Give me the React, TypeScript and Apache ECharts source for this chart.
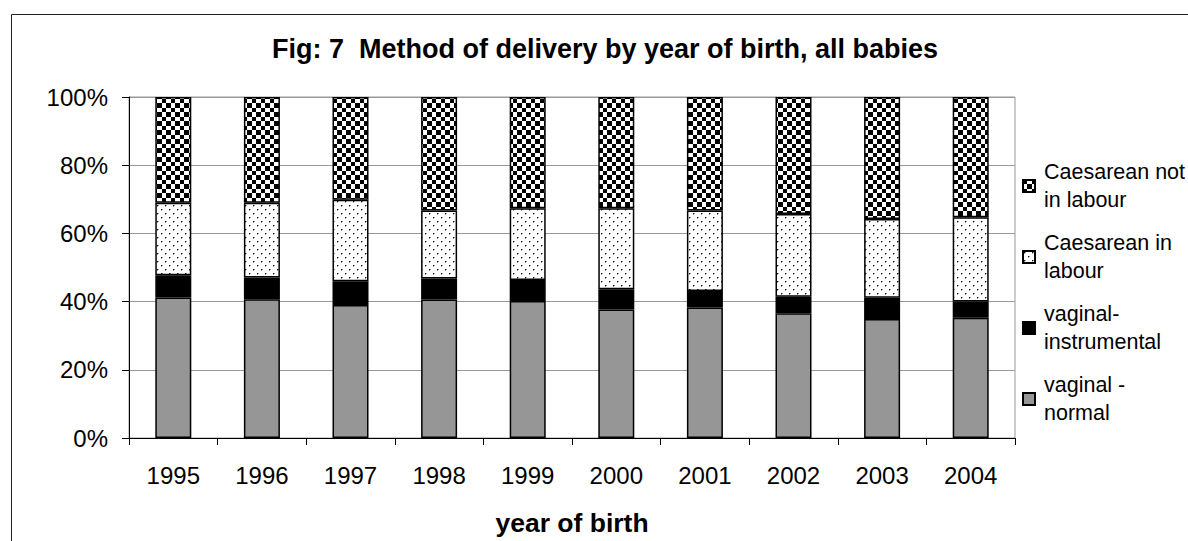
import React, { useEffect, useRef } from "react";
import * as echarts from "echarts";

const years = ["1995", "1996", "1997", "1998", "1999", "2000", "2001", "2002", "2003", "2004"];
const vaginalNormal = [41.2, 40.7, 39.0, 40.6, 40.2, 37.7, 38.3, 36.6, 34.9, 35.3];
const vaginalInstrumental = [6.5, 6.4, 7.0, 6.2, 6.1, 5.9, 4.8, 4.8, 6.2, 4.7];
const caesareanInLabour = [21.3, 21.9, 23.9, 19.9, 21.1, 23.8, 23.6, 24.3, 23.1, 24.7];
const caesareanNotInLabour = [31.0, 31.0, 30.1, 33.3, 32.6, 32.6, 33.3, 34.3, 35.8, 35.3];

const seriesNames = ["vaginal - normal", "vaginal-instrumental", "Caesarean in labour", "Caesarean not in labour"];
const legendOrder = ["Caesarean not in labour", "Caesarean in labour", "vaginal-instrumental", "vaginal - normal"];
const legendLines: Record<string, string> = {
  "Caesarean not in labour": "Caesarean not\nin labour",
  "Caesarean in labour": "Caesarean in\nlabour",
  "vaginal-instrumental": "vaginal-\ninstrumental",
  "vaginal - normal": "vaginal -\nnormal",
};
const yTicks = [0, 20, 40, 60, 80, 100];
const titleText = "Fig: 7  Method of delivery by year of birth, all babies";
const xAxisName = "year of birth";

const FONT = "'Liberation Sans', Arial, sans-serif";

function makeChecker(): string {
  const c = document.createElement("canvas");
  c.width = 9;
  c.height = 9;
  const ctx = c.getContext("2d")!;
  ctx.fillStyle = "#ffffff";
  ctx.fillRect(0, 0, 9, 9);
  ctx.fillStyle = "#000000";
  ctx.fillRect(0, 0, 4, 4);
  ctx.fillRect(4, 4, 5, 5);
  return c.toDataURL();
}

function makeDots(): string {
  const c = document.createElement("canvas");
  c.width = 8;
  c.height = 8;
  const ctx = c.getContext("2d")!;
  ctx.fillStyle = "#ffffff";
  ctx.fillRect(0, 0, 8, 8);
  ctx.fillStyle = "#111111";
  ctx.fillRect(1, 1, 1, 1);
  ctx.fillRect(5, 5, 1, 1);
  ctx.fillStyle = "#999999";
  ctx.fillRect(2, 1, 1, 1);
  ctx.fillRect(6, 5, 1, 1);
  ctx.fillRect(1, 2, 1, 1);
  ctx.fillRect(5, 6, 1, 1);
  return c.toDataURL();
}

export default function App() {
  const ref = useRef<HTMLDivElement>(null);
  useEffect(() => {
    if (!ref.current) return;
    const chart = echarts.init(ref.current, null, { renderer: "svg", width: 1188, height: 541 });
    const checker = { image: makeChecker(), repeat: "repeat", imageWidth: 9, imageHeight: 9 };
    const dots = { image: makeDots(), repeat: "repeat", imageWidth: 8, imageHeight: 8 };
    const fills: any[] = ["#969696", "#000000", dots, checker];
    const values = [vaginalNormal, vaginalInstrumental, caesareanInLabour, caesareanNotInLabour];

    const option: any = {
      animation: false,
      backgroundColor: "#ffffff",
      title: {
        text: titleText,
        left: 267,
        top: 30,
        textStyle: { fontFamily: FONT, fontSize: 27, fontWeight: "bold", color: "#000" },
      },
      graphic: [
        {
          type: "rect",
          shape: { x: 11.5, y: 14.5, width: 1200, height: 600 },
          style: { fill: "none", stroke: "#222", lineWidth: 1 },
          silent: true,
          z: 100,
        },
      ],
      legend: {
        orient: "vertical",
        left: 1017,
        top: 139,
        itemWidth: 12,
        itemHeight: 12,
        itemGap: -13,
        icon: "rect",
        data: legendOrder,
        selectedMode: false,
        formatter: (n: string) => legendLines[n] || n,
        textStyle: {
          fontFamily: FONT,
          fontSize: 21.5,
          color: "#000",
          lineHeight: 28,
          padding: [28, 0, 0, 4],
        },
      },
      grid: {
        left: 129,
        width: 886,
        top: 97,
        height: 343.5,
        show: true,
        borderColor: "#999",
        borderWidth: 1,
        containLabel: false,
      },
      xAxis: {
        type: "category",
        data: years,
        boundaryGap: true,
        name: xAxisName,
        nameLocation: "middle",
        nameGap: 71,
        nameTextStyle: { fontFamily: FONT, fontSize: 26.5, fontWeight: "bold", color: "#000" },
        axisLine: { show: true, lineStyle: { color: "#000", width: 1 } },
        axisTick: { show: true, length: 7, inside: false, lineStyle: { color: "#000" } },
        axisLabel: { fontFamily: FONT, fontSize: 24, color: "#000", margin: 25, interval: 0 },
        splitLine: { show: false },
      },
      yAxis: {
        type: "value",
        min: yTicks[0],
        max: yTicks[yTicks.length - 1],
        interval: 20,
        axisLine: { show: true, lineStyle: { color: "#000", width: 1 } },
        axisTick: { show: true, length: 7, inside: false, lineStyle: { color: "#000" } },
        axisLabel: {
          fontFamily: FONT,
          fontSize: 24,
          color: "#000",
          margin: 21,
          padding: [0, 0, 4, 0],
          formatter: "{value}%",
        },
        splitLine: { show: true, lineStyle: { color: "#999", width: 1 } },
      },
      series: seriesNames.map((name, i) => ({
        name,
        type: "bar",
        stack: "total",
        barWidth: 36,
        data: values[i],
        itemStyle: { color: fills[i], borderColor: "#000", borderWidth: 1.5 },
        emphasis: { disabled: true },
      })),
    };
    chart.setOption(option);
    return () => chart.dispose();
  }, []);
  return (
    <div
      ref={ref}
      style={{ position: "fixed", left: 0, top: 0, width: 1188, height: 541, background: "#fff" }}
    />
  );
}
